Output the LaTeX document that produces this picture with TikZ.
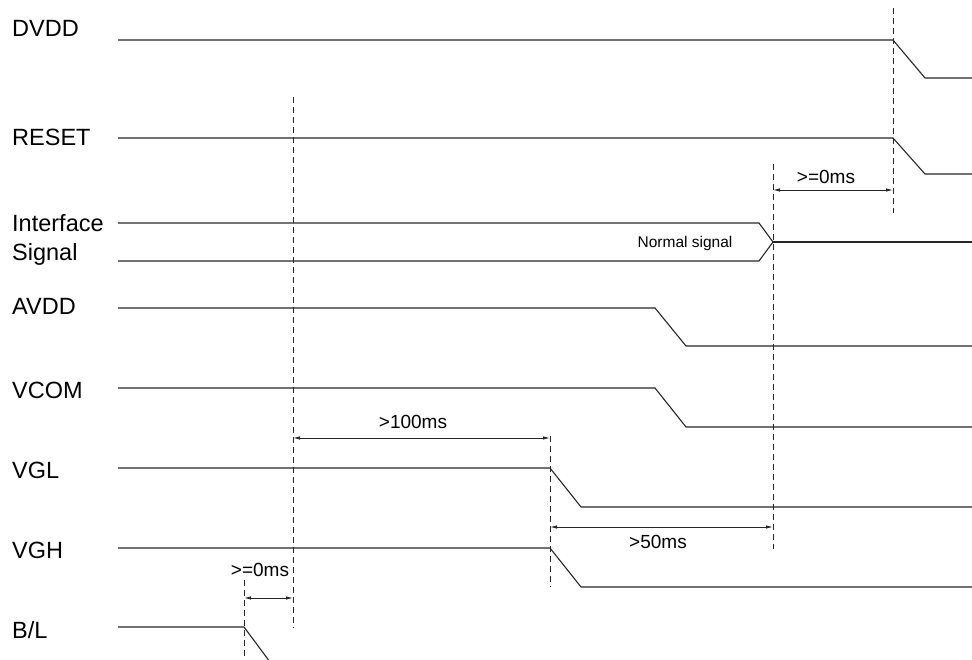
\documentclass[tikz,border=0pt]{standalone}
\usepackage{fontspec}
\setmainfont{Liberation Sans}
\usetikzlibrary{positioning,calc,arrows.meta}
\tikzstyle{signal} = [line width=1.1pt, draw=black!85]
\tikzstyle{guide} = [line width=0.9pt, draw=black!85, dash pattern=on 6pt off 4pt]
\tikzstyle{dim} = [line width=0.9pt, draw=black!85, {Latex[length=7pt,width=3.5pt]}-{Latex[length=7pt,width=3.5pt]}]
\tikzstyle{lbl} = [anchor=base west, inner sep=0pt, font=\fontsize{23.5}{26}\selectfont]
\tikzstyle{tlbl} = [inner sep=0pt, font=\fontsize{19}{21}\selectfont]
\begin{document}
\begin{tikzpicture}[x=1pt,y=-1pt]
    \useasboundingbox (0,0) rectangle (972,660);

    % Rotulos
    \node[lbl] (dvdd) at (12,37) {DVDD};
    \node[lbl] (reset) at (12,146) {RESET};
    \node[lbl] (iface) at (12,232) {Interface};
    \node[lbl] (isig) at (12,261) {Signal};
    \node[lbl] (avdd) at (12,315) {AVDD};
    \node[lbl] (vcom) at (12,398) {VCOM};
    \node[lbl] (vgl) at (12,478) {VGL};
    \node[lbl] (vgh) at (12,558) {VGH};
    \node[lbl] (bl) at (12,638) {B/L};

    % Sinais
    \draw[signal] (118,40) -- (893,40) -- (925,78) -- (972,78);
    \draw[signal] (118,138) -- (893,138) -- (925,174) -- (972,174);
    \draw[signal] (118,223) -- (759,223) -- (773,242) -- (759,261) -- (118,261);
    \draw[signal] (773,242) -- (972,242);
    \node[inner sep=0pt, font=\fontsize{15.5}{17}\selectfont] (normal) at (685,243) {Normal signal};
    \draw[signal] (118,308) -- (655,308) -- (686,346) -- (972,346);
    \draw[signal] (118,388) -- (655,388) -- (686,427) -- (972,427);
    \draw[signal] (118,468) -- (550,468) -- (581,507) -- (972,507);
    \draw[signal] (118,548) -- (550,548) -- (581,587) -- (972,587);
    \draw[signal] (118,627) -- (244,627) -- (270,662);

    % Linhas de referencia
    \coordinate (g1a) at (893,8);   \coordinate (g1b) at (893,213);
    \coordinate (g2a) at (293,97);  \coordinate (g2b) at (293,628);
    \coordinate (g3a) at (773,164); \coordinate (g3b) at (773,549);
    \coordinate (g4a) at (550,436); \coordinate (g4b) at (550,587);
    \coordinate (g5a) at (244,580); \coordinate (g5b) at (244,662);
    \foreach \i in {1,...,5}
        \draw[guide] (g\i a) -- (g\i b);

    % Cotas
    \draw[dim] (773,190) -- (893,190);
    \node[tlbl] (t1) at (826,177) {>=0ms};
    \draw[dim] (293,438) -- (550,438);
    \node[tlbl] (t2) at (413,422) {>100ms};
    \draw[dim] (550,527) -- (773,527);
    \node[tlbl] (t3) at (658,542) {>50ms};
    \draw[dim] (244,598) -- (293,598);
    \node[tlbl] (t4) at (260,570) {>=0ms};
\end{tikzpicture}
\end{document}
